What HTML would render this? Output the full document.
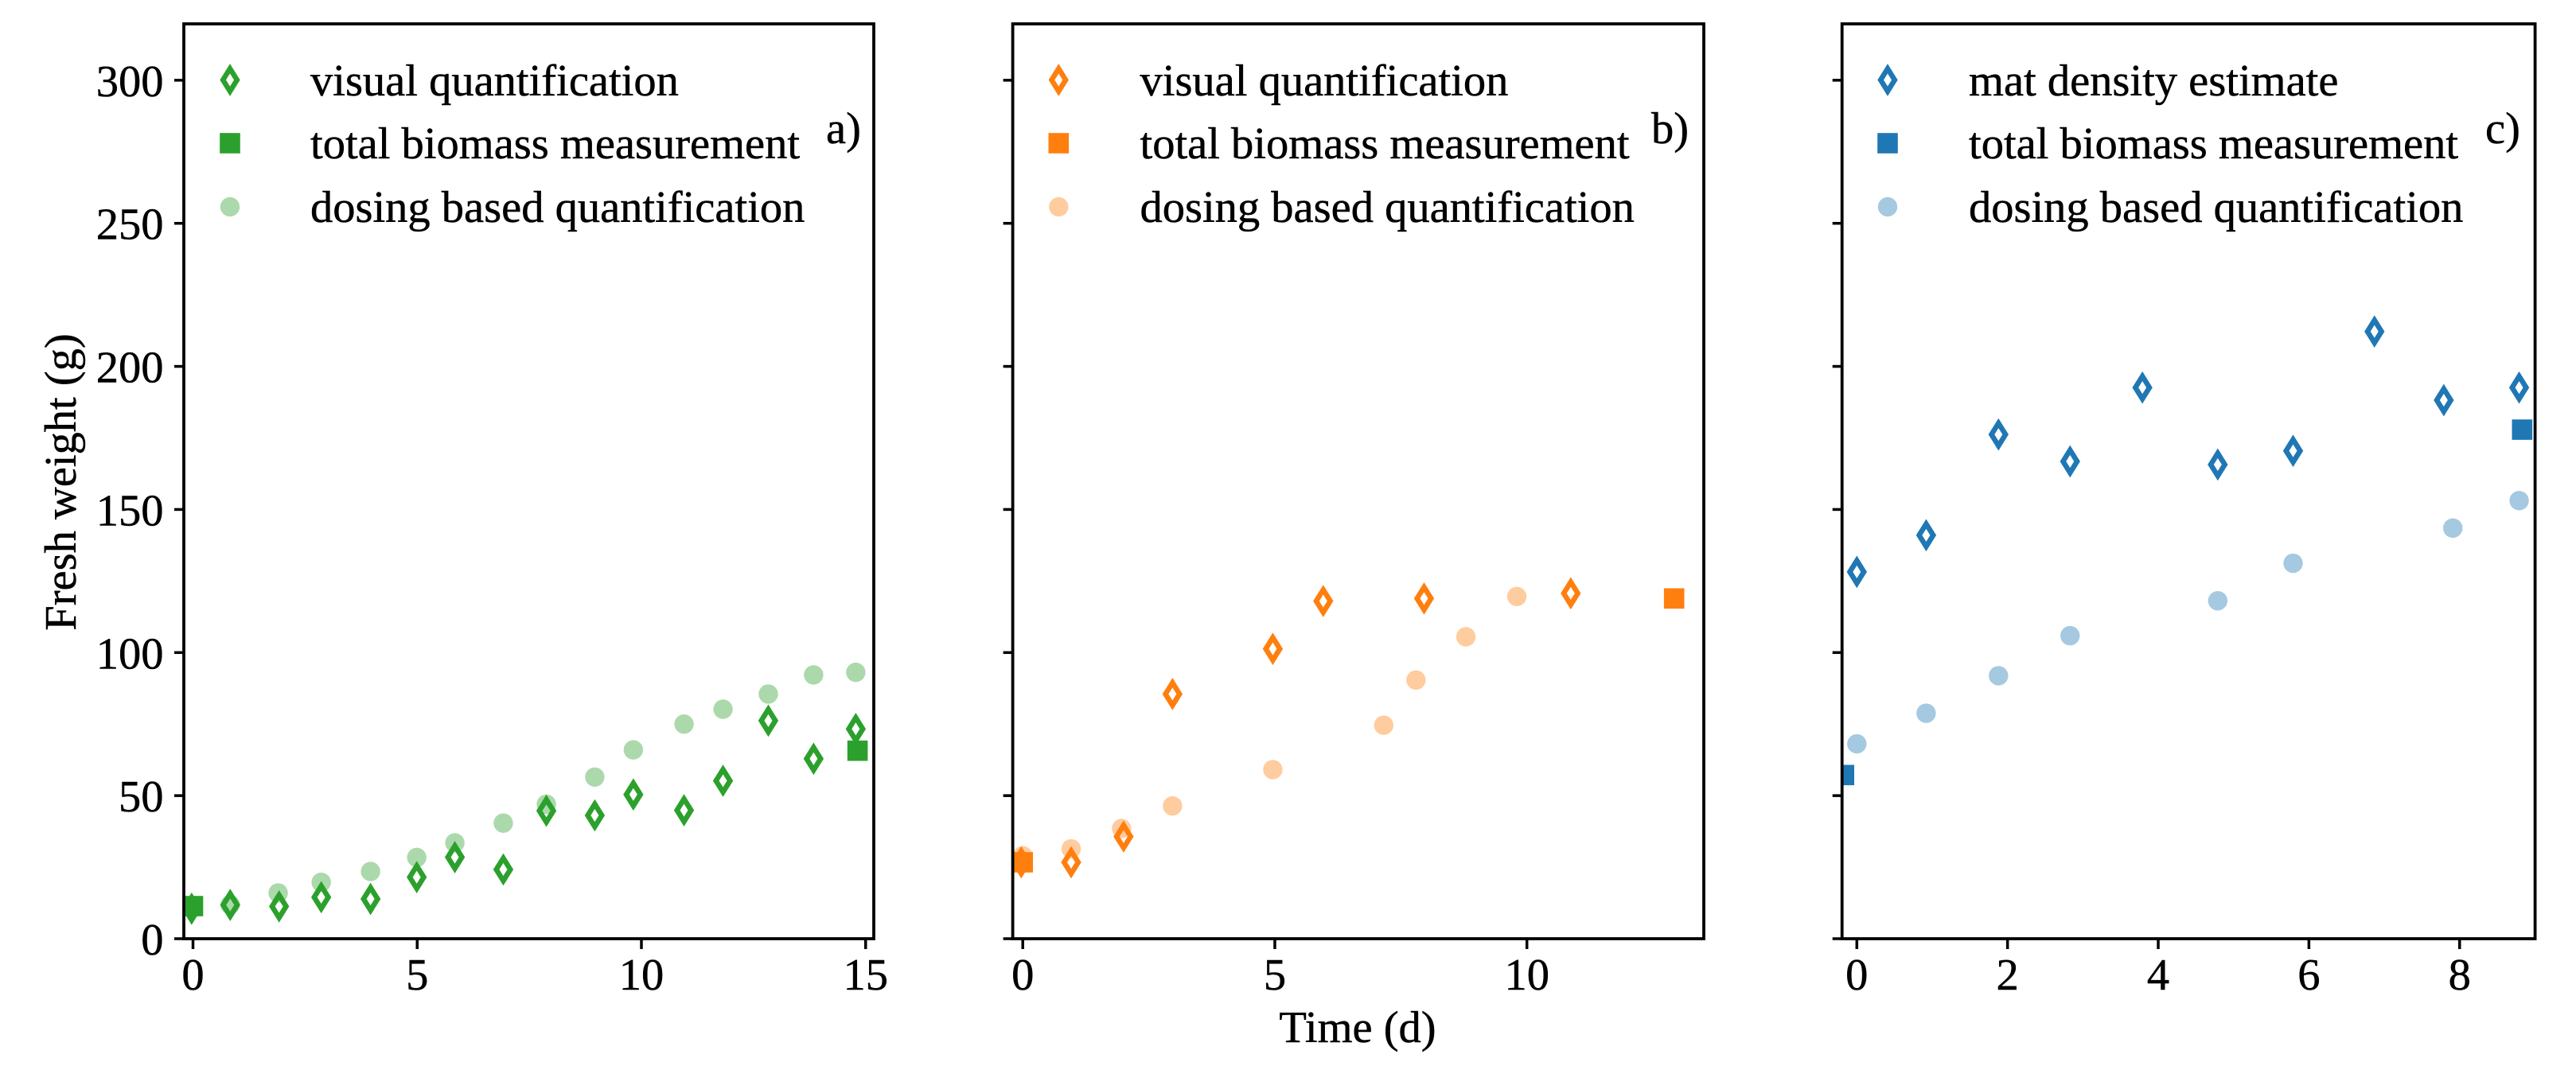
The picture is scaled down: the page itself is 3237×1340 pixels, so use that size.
<!DOCTYPE html>
<html>
<head>
<meta charset="utf-8">
<title>Fresh weight over time</title>
<style>
html,body{margin:0;padding:0;background:#fff;width:3237px;height:1340px;overflow:hidden}
svg{display:block}
text{font-family:"Liberation Serif",serif;font-size:56.5px;fill:#000;stroke:#000;stroke-width:0.5px}
</style>
</head>
<body>
<svg id="chart" xmlns="http://www.w3.org/2000/svg" width="3237" height="1340" viewBox="0 0 3237 1340">
  <rect x="0" y="0" width="3237" height="1340" fill="#fff"/>
  <text transform="translate(95,606) rotate(-90)" text-anchor="middle">Fresh weight (g)</text>
  <text x="1706" y="1310" text-anchor="middle">Time (d)</text>

  <g>
    <text x="390" y="120">visual quantification</text>
    <text x="390" y="199">total biomass measurement</text>
    <text x="390" y="279">dosing based quantification</text>
  </g>
  <text x="1038" y="180">a)</text>

  <g>
    <text x="1432.5" y="120">visual quantification</text>
    <text x="1432.5" y="199">total biomass measurement</text>
    <text x="1432.5" y="279">dosing based quantification</text>
  </g>
  <text x="2075" y="180">b)</text>

  <g>
    <text x="2474" y="120">mat density estimate</text>
    <text x="2474" y="199">total biomass measurement</text>
    <text x="2474" y="279">dosing based quantification</text>
  </g>
  <text x="3123" y="180">c)</text>
</svg>
<script>
// Shared y axis
const yTickValues = [0, 50, 100, 150, 200, 250, 300];

// Panel a
const aXTicks = [0, 5, 10, 15];
const aVisualDays = [-0.03, 0.83, 1.92, 2.86, 3.96, 4.99, 5.84, 6.92, 7.88, 8.96, 9.82, 10.95, 11.82, 12.83, 13.84, 14.78];
const aVisualWeight = [10.5, 11.8, 11.3, 14.5, 13.9, 21.5, 28.5, 24.2, 44.7, 43.1, 50.4, 44.9, 55.2, 76.2, 62.9, 73.3];
const aTotalDays = [0, 14.82];
const aTotalWeight = [11.4, 65.7];
const aDosingDays = [0, 0.83, 1.9, 2.86, 3.96, 4.99, 5.84, 6.92, 7.88, 8.96, 9.82, 10.95, 11.82, 12.83, 13.84, 14.78];
const aDosingWeight = [11, 11.9, 16, 19.7, 23.5, 28.4, 33.5, 40.4, 47, 56.5, 66, 75, 80.2, 85.5, 92.2, 93.1];

// Panel b
const bXTicks = [0, 5, 10];
const bVisualDays = [-0.03, 0.96, 2, 2.97, 4.96, 5.96, 7.96, 10.87];
const bVisualWeight = [26.7, 26.7, 35.7, 85.5, 101.3, 118, 118.9, 120.7];
const bTotalDays = [0, 12.92];
const bTotalWeight = [26.7, 118.9];
const bDosingDays = [0, 0.96, 1.96, 2.97, 4.96, 7.16, 7.8, 8.79, 9.8, 12.92];
const bDosingWeight = [29, 31.4, 38.5, 46.4, 59.1, 74.6, 90.4, 105.5, 119.6, 119.1];

// Panel c
const cXTicks = [0, 2, 4, 6, 8];
const cVisualDays = [0, 0.92, 1.88, 2.83, 3.79, 4.79, 5.79, 6.87, 7.79, 8.79];
const cVisualWeight = [128.2, 141, 176.2, 166.8, 192.6, 165.7, 170.5, 212.2, 188.2, 192.6];
const cTotalDays = [-0.17, 8.83];
const cTotalWeight = [57.2, 177.9];
const cDosingDays = [0, 0.92, 1.88, 2.83, 4.79, 5.79, 7.91, 8.79];
const cDosingWeight = [68.1, 78.8, 91.9, 105.9, 118.1, 131.2, 143.5, 153.1];

const svg = document.getElementById('chart');
const NS = 'http://www.w3.org/2000/svg';
const TOP = 30, BOTTOM = 1180, Y_MAX = 319.7;
function yScale(v) { return BOTTOM - v * (BOTTOM - TOP) / Y_MAX; }

function mk(tag, attrs, parent) {
  const el = document.createElementNS(NS, tag);
  for (const k in attrs) el.setAttribute(k, attrs[k]);
  parent.appendChild(el);
  return el;
}
function diamond(cx, cy, color, parent) {
  const w = 8.85, h = 14.2;
  const pts = [[cx, cy - h], [cx + w, cy], [cx, cy + h], [cx - w, cy]].map(p => p.join(',')).join(' ');
  return mk('polygon', {points: pts, fill: 'none', stroke: color, 'stroke-width': 6.5, 'stroke-miterlimit': 10}, parent);
}
function square(cx, cy, color, parent) {
  return mk('rect', {x: cx - 12.8, y: cy - 12.8, width: 25.6, height: 25.6, fill: color}, parent);
}
function disc(cx, cy, color, parent) {
  return mk('circle', {cx: cx, cy: cy, r: 12.2, fill: color, 'fill-opacity': 0.4}, parent);
}

function drawPanel(p) {
  const xScale = d => p.x0 + d * p.k;
  const g = mk('g', {}, svg);
  
  

  const defs = mk('defs', {}, g);
  const clip = mk('clipPath', {id: 'clip-' + p.id}, defs);
  mk('rect', {x: p.left, y: TOP, width: p.right - p.left, height: BOTTOM - TOP}, clip);

  const marks = mk('g', {'clip-path': 'url(#clip-' + p.id + ')'}, g);
  
  

  p.dosingDays.forEach((d, i) => {
    const el = disc(xScale(d), yScale(p.dosingWeight[i]), p.color, marks);
    
    
  });
  p.visualDays.forEach((d, i) => {
    const el = diamond(xScale(d), yScale(p.visualWeight[i]), p.color, marks);
    
    
  });
  p.totalDays.forEach((d, i) => {
    const el = square(xScale(d), yScale(p.totalWeight[i]), p.color, marks);
    
    
  });

  // y ticks
  yTickValues.forEach(v => {
    const y = yScale(v);
    const t = mk('line', {x1: p.left - 12, x2: p.left, y1: y, y2: y, stroke: '#000', 'stroke-width': 3.5}, g);
    
    
    if (p.showYLabels) {
      const lab = mk('text', {x: p.left - 25.5, y: y + 20, 'text-anchor': 'end'}, g);
      lab.textContent = String(v);
      
      
    }
  });
  // x ticks
  p.xTicks.forEach(v => {
    const x = xScale(v);
    const t = mk('line', {x1: x, x2: x, y1: BOTTOM, y2: BOTTOM + 13, stroke: '#000', 'stroke-width': 3.5}, g);
    
    
    const lab = mk('text', {x: x, y: 1244, 'text-anchor': 'middle'}, g);
    lab.textContent = String(v);
    
    
  });
  // frame
  const frame = mk('rect', {x: p.left, y: TOP, width: p.right - p.left, height: BOTTOM - TOP, fill: 'none', stroke: '#000', 'stroke-width': 3.8}, g);
  
  

  // legend swatches
  const d1 = diamond(p.legendX, 100.5, p.color, g);
  
  
  const s1 = square(p.legendX, 180, p.color, g);
  
  
  const c1 = disc(p.legendX, 260, p.color, g);
  
  
}

drawPanel({id: 'a', color: '#2ca02c', left: 231, right: 1098, x0: 242.5, k: 56.35, legendX: 289, showYLabels: true,
  xTicks: aXTicks, visualDays: aVisualDays, visualWeight: aVisualWeight, totalDays: aTotalDays, totalWeight: aTotalWeight, dosingDays: aDosingDays, dosingWeight: aDosingWeight});
drawPanel({id: 'b', color: '#ff7f0e', left: 1272.6, right: 2141, x0: 1285.2, k: 63.35, legendX: 1330.3, showYLabels: false,
  xTicks: bXTicks, visualDays: bVisualDays, visualWeight: bVisualWeight, totalDays: bTotalDays, totalWeight: bTotalWeight, dosingDays: bDosingDays, dosingWeight: bDosingWeight});
drawPanel({id: 'c', color: '#1f77b4', left: 2314.7, right: 3185.6, x0: 2333.3, k: 94.68, legendX: 2372, showYLabels: false,
  xTicks: cXTicks, visualDays: cVisualDays, visualWeight: cVisualWeight, totalDays: cTotalDays, totalWeight: cTotalWeight, dosingDays: cDosingDays, dosingWeight: cDosingWeight});
</script>
</body>
</html>
